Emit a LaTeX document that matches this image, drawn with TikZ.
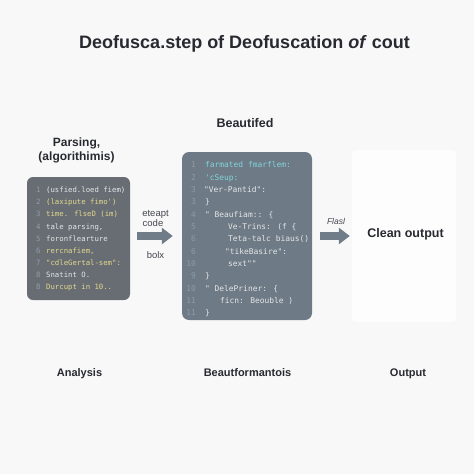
\documentclass[tikz,border=0pt]{standalone}
\usepackage{fontspec}
\setmainfont{Liberation Sans}
\newfontfamily\codefont{DejaVu Sans Mono}[Ligatures=TeXOff]
\usetikzlibrary{arrows.meta}
\definecolor{bg}{RGB}{248,248,249}
\definecolor{outfill}{RGB}{253,253,253}
\definecolor{ink}{RGB}{40,42,48}
\definecolor{soft}{RGB}{70,72,78}
\definecolor{leftbox}{RGB}{104,109,116}
\definecolor{midbox}{RGB}{110,122,134}
\definecolor{arrowc}{RGB}{112,124,136}
\definecolor{cw}{RGB}{228,230,230}
\definecolor{cy}{RGB}{226,216,140}
\definecolor{ct}{RGB}{130,214,220}
\definecolor{numl}{RGB}{150,156,164}
\definecolor{numm}{RGB}{142,154,166}
\tikzset{
  panel/.style={rounded corners=6pt, draw=none, inner sep=0pt},
  codeL/.style={font=\fontsize{7.3}{9}\codefont, anchor=base west, inner sep=0pt},
  codeM/.style={font=\fontsize{7.9}{9}\codefont, anchor=base west, inner sep=0pt},
  numM/.style={font=\fontsize{7.9}{9}\codefont, anchor=base east, inner sep=0pt, text=numm},
  heading/.style={font=\bfseries\fontsize{12}{14}\selectfont, text=ink, anchor=base, inner sep=0pt},
  footlabel/.style={font=\bfseries\fontsize{11}{13}\selectfont, text=ink, anchor=base, inner sep=0pt},
  flowlabel/.style={font=\fontsize{9.5}{11}\selectfont, text=soft, anchor=base, inner sep=0pt},
  flow/.style={draw=arrowc, line width=8pt, -{Triangle[length=11pt,width=16pt]}},
}
\begin{document}
\begin{tikzpicture}[x=1pt,y=-1pt]
\useasboundingbox (0,0) rectangle (474,474);
\fill[bg] (0,0) rectangle (474,474);

\node[font=\bfseries\fontsize{18}{22}\selectfont, text=ink, anchor=base, inner sep=0pt] (title) at (244.5,48) {Deofusca.step of Deofuscation \textit{of} cout};

% headings
\node[heading] (h1a) at (76.5,146) {Parsing,};
\node[heading] (h1b) at (76.5,160.5) {(algorithimis)};
\node[heading, font=\bfseries\fontsize{12.5}{14}\selectfont] (h2) at (245,127.5) {Beautifed};

% panels
\node[panel, fill=leftbox, minimum width=103pt, minimum height=123pt] (leftbox) at (78.5,238.5) {};
\node[panel, fill=midbox, rounded corners=7pt, minimum width=130pt, minimum height=168pt] (midbox) at (247,236) {};
\node[panel, fill=outfill, rounded corners=4pt, minimum width=104pt, minimum height=172pt] (outbox) at (404,236) {};

% left code
\foreach \n/\c/\t [count=\i] in {1/cw/{(usfied.loed fiem)}, 2/cy/{(laxipute fimo')}, 3/cy/{time. flseD (im)}, 4/cw/{tale parsing,}, 5/cw/{foronflearture}, 6/cy/{rercnafiem,}, 7/cy/{"cdleGertal-sem":}, 8/cw/{Snatint O.}, 8/cy/{Durcupt in 10..}} {
  \node[codeL, text=numl] (ln\i) at (36,{190+12.1*(\i-1)+2.7}) {\n};
  \node[codeL, text=\c] (lt\i) at (46,{190+12.1*(\i-1)+2.7}) {\t};
}

% middle code
\foreach \n/\x/\c/\t [count=\i] in {1/205/ct/{farmated fmarflem:}, 2/205/ct/{'cSeup:}, 3/204/cw/{"Ver-Pantid":}, 3/205/cw/{\}}, 4/205/cw/{" Beaufiam:: \{}, 5/228/cw/{Ve-Trins: (f \{}, 6/228/cw/{Teta-talc biaus()}, 6/225/cw/{"tikeBasire":}, 10/228/cw/{sext""}, 9/205/cw/{\}}, 10/205/cw/{" DelePriner: \{}, 11/220/cw/{ficn: Beouble )}, 11/205/cw/{\}}} {
  \node[numM] (mn\i) at (196,{165+12.33*(\i-1)+2.9}) {\n};
  \node[codeM, text=\c] (mt\i) at (\x,{165+12.33*(\i-1)+2.9}) {\t};
}

% output text
\node[font=\bfseries\fontsize{12.5}{14}\selectfont, text=ink, anchor=base, inner sep=0pt] (clean) at (405.5,237.5) {Clean output};

% arrows
\draw[flow, shorten <=7pt, shorten >=9pt] (leftbox.east |- midbox.west) -- (midbox.west);
\draw[flow, shorten <=8pt, shorten >=2pt] (midbox.east) -- (outbox.west |- midbox.east);

\node[flowlabel] (f1a) at (155.5,216) {eteapt};
\node[flowlabel] (f1b) at (153,226.7) {code};
\node[flowlabel] (f1c) at (155.5,258) {bolx};
\node[flowlabel, font=\itshape\fontsize{8.5}{10}\selectfont] (f2) at (336,224.3) {Flasl};

% footer labels
\node[footlabel] (b1) at (79.5,376.5) {Analysis};
\node[footlabel] (b2) at (247.5,376.5) {Beautformantois};
\node[footlabel] (b3) at (408,376.5) {Output};
\end{tikzpicture}
\end{document}
